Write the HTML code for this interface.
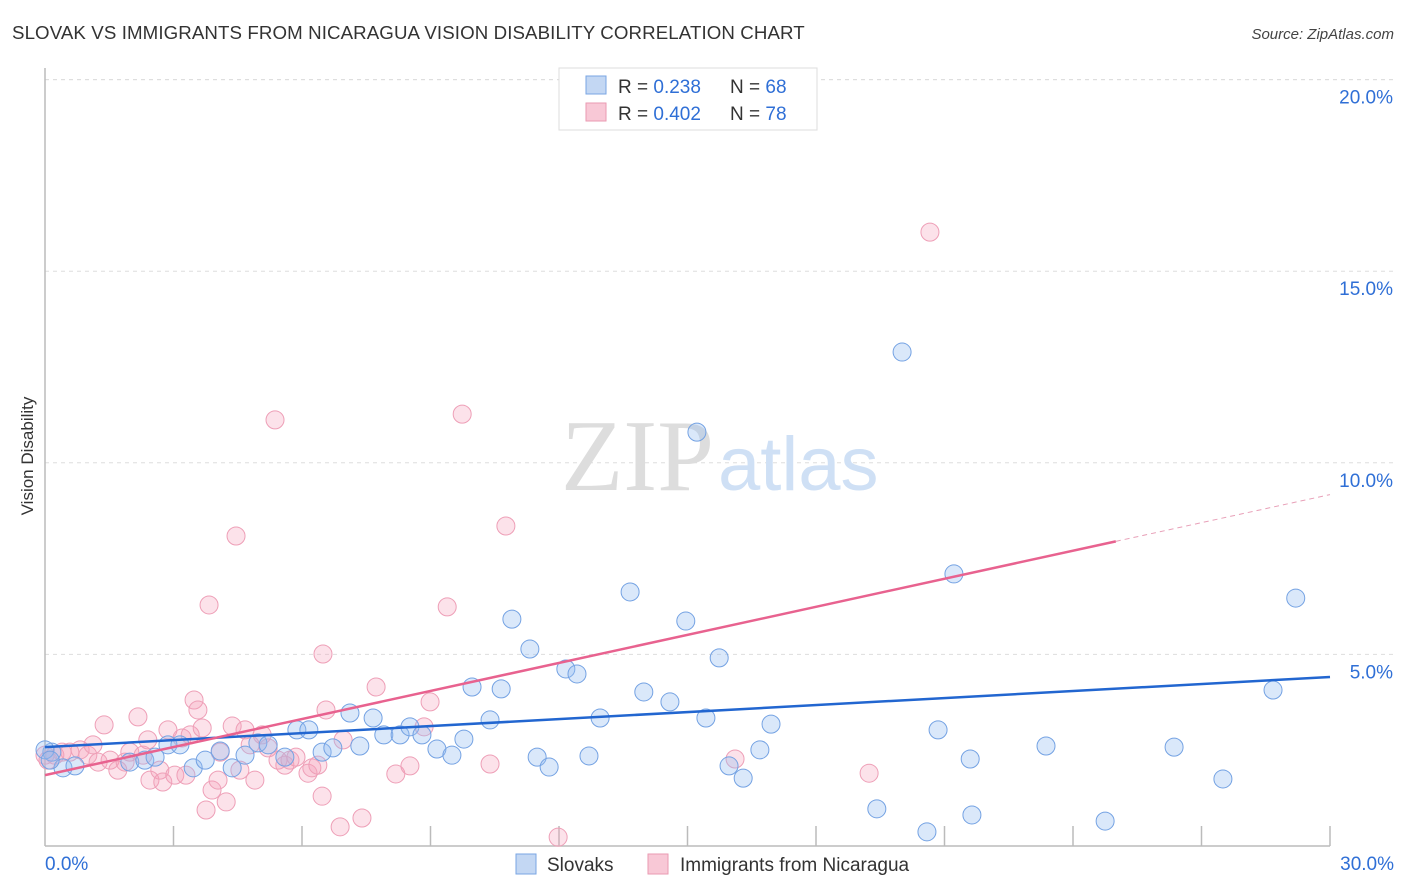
<!DOCTYPE html>
<html><head><meta charset="utf-8"><style>
body{margin:0;background:#fff;font-family:"Liberation Sans",sans-serif;}
#wrap{position:relative;width:1406px;height:892px;overflow:hidden;}
</style></head><body>
<div id="wrap">
<svg id="svg" width="1406" height="892" xmlns="http://www.w3.org/2000/svg">
<text x="12" y="39" font-size="18.7" fill="#333" letter-spacing="0.1">SLOVAK VS IMMIGRANTS FROM NICARAGUA VISION DISABILITY CORRELATION CHART</text>
<text x="1394" y="39" font-size="15" fill="#444" font-style="italic" text-anchor="end">Source: ZipAtlas.com</text>
<text x="33" y="456" font-size="17" fill="#333" text-anchor="middle" transform="rotate(-90 33 456)">Vision Disability</text>
<g id="grid"></g>
<text x="714" y="490" font-size="102" fill="#ddd" font-family="Liberation Serif,serif" text-anchor="end">ZIP</text>
<text x="718" y="490" font-size="76" fill="#cfe0f5">atlas</text>
<g id="pts"></g>
<g id="lines"></g>
<g>
<rect x="559" y="68" width="258" height="62" fill="#fff" stroke="#ddd"/>
<rect x="586" y="76" width="20" height="18" fill="#c3d7f3" stroke="#7aa6e3"/>
<rect x="586" y="103" width="20" height="18" fill="#f8c8d6" stroke="#ea9ab2"/>
<text x="618" y="93" font-size="19" fill="#333">R = <tspan fill="#2f6fd6">0.238</tspan><tspan x="730">N = </tspan><tspan fill="#2f6fd6">68</tspan></text>
<text x="618" y="120" font-size="19" fill="#333">R = <tspan fill="#2f6fd6">0.402</tspan><tspan x="730">N = </tspan><tspan fill="#2f6fd6">78</tspan></text>
</g>
<g>
<rect x="516" y="854" width="20" height="20" fill="#c3d7f3" stroke="#7aa6e3"/>
<text x="547" y="871" font-size="19" fill="#333">Slovaks</text>
<rect x="648" y="854" width="20" height="20" fill="#f8c8d6" stroke="#ea9ab2"/>
<text x="680" y="871" font-size="19" fill="#333">Immigrants from Nicaragua</text>
</g>
</svg>
</div>
<script>
const yTicks=[5,10,15,20];
const yTickLabels=["5.0%","10.0%","15.0%","20.0%"];
const xTickLabels=["0.0%","30.0%"];
const blueX=[0.16,0.42,0.70,1.98,2.33,2.57,2.87,3.15,3.46,3.74,4.09,4.37,4.67,4.97,5.21,5.60,5.88,6.16,6.47,6.72,7.12,7.35,7.66,7.91,8.29,8.52,8.80,9.15,9.50,9.78,9.97,10.39,10.65,10.90,11.32,11.49,11.77,12.16,12.42,12.70,12.96,13.66,13.98,14.59,14.96,15.22,15.43,15.74,15.97,16.30,16.69,16.95,19.42,20.01,20.59,20.85,21.22,21.60,21.64,23.37,24.75,26.36,27.50,28.67,29.20,0.0,0.12];
const blueY=[2.45,2.04,2.09,2.19,2.24,2.32,2.64,2.64,2.04,2.24,2.48,2.04,2.37,2.69,2.64,2.32,3.03,3.03,2.45,2.56,3.47,2.61,3.34,2.90,2.90,3.11,2.90,2.53,2.37,2.79,4.15,3.29,4.10,5.92,5.14,2.32,2.06,4.62,4.49,2.35,3.34,6.63,4.02,3.76,5.87,10.80,3.34,4.91,2.09,1.77,2.51,3.18,0.97,12.89,0.37,3.03,7.10,2.27,0.81,2.61,0.65,2.58,1.75,4.07,6.47,2.51,2.24];
const pinkX=[0.07,0.23,0.40,0.58,0.82,1.00,1.12,1.24,1.38,1.52,1.70,1.87,1.98,2.17,2.29,2.40,2.45,2.68,2.75,2.87,3.03,3.20,3.29,3.39,3.48,3.57,3.67,3.76,3.83,3.90,4.04,4.09,4.23,4.37,4.46,4.55,4.67,4.79,4.90,5.07,5.21,5.37,5.44,5.60,5.72,5.86,6.14,6.23,6.37,6.47,6.49,6.56,6.89,6.96,7.40,7.73,8.19,8.52,8.85,8.99,9.39,9.74,10.39,10.76,11.98,16.11,19.24,20.66,0.0];
const pinkY=[2.24,2.37,2.45,2.45,2.51,2.37,2.64,2.19,3.16,2.24,1.98,2.19,2.45,3.37,2.37,2.77,1.72,1.98,1.67,3.03,1.85,2.82,1.85,2.90,3.81,3.55,3.08,0.94,6.29,1.46,1.72,2.45,1.15,3.13,8.09,1.98,3.03,2.64,1.72,2.90,2.56,11.12,2.24,2.11,2.24,2.32,1.90,2.04,2.11,1.30,5.01,3.55,0.50,2.77,0.73,4.15,1.88,2.09,3.11,3.76,6.24,11.27,2.14,8.35,0.23,2.27,1.90,16.02,2.37];
const blueTrend=[2.58,0.061];
const pinkTrend=[1.85,0.244];
const NS="http://www.w3.org/2000/svg";
const X0=45,X1=1330,Y0=846,PXY=191.6/5;
function sx(v){return X0+(X1-X0)*v/30;}
function sy(v){return Y0-v*PXY;}
function mk(t,a,p){const e=document.createElementNS(NS,t);for(const k in a)e.setAttribute(k,a[k]);p.appendChild(e);return e;}
const grid=document.getElementById('grid');
const gl=mk('line',{x1:45,y1:sy(20),x2:1395,y2:sy(20),stroke:'#ddd','stroke-dasharray':'4,4'},grid);


yTicks.forEach((t,i)=>{
 const l=mk('line',{x1:45,y1:sy(t),x2:1395,y2:sy(t),stroke:'#ddd','stroke-dasharray':'4,4'},grid);
 
 
 const tx=mk('text',{x:1393,y:sy(t)+24,'font-size':19,fill:'#2f6fd6','text-anchor':'end'},grid);
 tx.textContent=yTickLabels[i];
 
 
});
mk('line',{x1:45,y1:68,x2:45,y2:846,stroke:'#bbb','stroke-width':1.5},grid);
mk('line',{x1:45,y1:846,x2:1330,y2:846,stroke:'#bbb','stroke-width':1.5},grid);
for(let i=1;i<=10;i++){const x=sx(i*3);mk('line',{x1:x,y1:826,x2:x,y2:846,stroke:'#bbb','stroke-width':1.5},grid);}
xTickLabels.forEach((s,i)=>{
 const t=mk('text',{x:i?1394:45,y:870,'font-size':19,fill:'#2f6fd6','text-anchor':i?'end':'start'},grid);
 t.textContent=s;
 
 
});
const pts=document.getElementById('pts');
pinkX.forEach((x,i)=>{
 const c=mk('circle',{cx:sx(x),cy:sy(pinkY[i]),r:9,fill:'rgba(244,160,186,0.3)',stroke:'#ee9fb7','stroke-width':1},pts);
 
 
});
blueX.forEach((x,i)=>{
 const c=mk('circle',{cx:sx(x),cy:sy(blueY[i]),r:9,fill:'rgba(150,188,240,0.35)',stroke:'#74a2e3','stroke-width':1},pts);
 
 
});
const lines=document.getElementById('lines');
const bl=mk('line',{x1:sx(0),y1:sy(blueTrend[0]),x2:sx(30),y2:sy(blueTrend[0]+30*blueTrend[1]),stroke:'#2266d0','stroke-width':2.5},lines);


const pl=mk('line',{x1:sx(0),y1:sy(pinkTrend[0]),x2:sx(25),y2:sy(pinkTrend[0]+25*pinkTrend[1]),stroke:'#e8628f','stroke-width':2.5},lines);


const pd=mk('line',{x1:sx(25),y1:sy(pinkTrend[0]+25*pinkTrend[1]),x2:sx(30),y2:sy(pinkTrend[0]+30*pinkTrend[1]),stroke:'#e8a0b8','stroke-width':1,'stroke-dasharray':'5,4'},lines);


</script>
</body></html>
